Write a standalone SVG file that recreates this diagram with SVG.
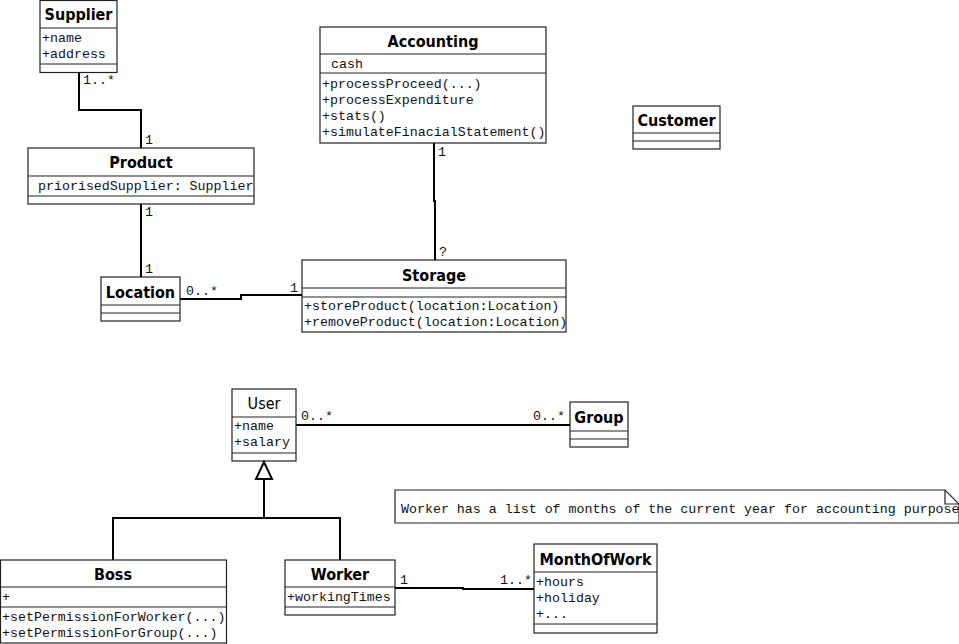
<svg xmlns="http://www.w3.org/2000/svg" width="959" height="644" viewBox="0 0 959 644">
  <style>
    .box { fill: #ffffff; stroke: #222222; stroke-width: 1.2; }
    .sep { stroke: #222222; stroke-width: 1.2; }
    .title { font-family: "DejaVu Sans Condensed", "DejaVu Sans", "Liberation Sans", sans-serif; font-weight: bold; font-size: 16px; fill: #000; text-anchor: middle; font-stretch: condensed; }
    .plain { font-family: "DejaVu Sans Condensed", "DejaVu Sans", "Liberation Sans", sans-serif; font-size: 16px; fill: #000; text-anchor: middle; font-stretch: condensed; }
    .mono { font-family: "Liberation Mono", "Courier New", monospace; font-size: 13.3px; fill: #111; }
    .conn { fill: none; stroke: #000; stroke-width: 2; }
    .gen { fill: #fff; stroke: #000; stroke-width: 2; }
  </style>

  <!-- Supplier -->
  <g id="supplier">
    <rect class="box" x="40" y="0.5" width="77" height="72"/>
    <line class="sep" x1="40" y1="28" x2="117" y2="28"/>
    <line class="sep" x1="40" y1="64" x2="117" y2="64"/>
    <text class="title" x="78.5" y="20">Supplier</text>
    <text class="mono" x="42" y="42">+name</text>
    <text class="mono" x="42" y="58">+address</text>
  </g>

  <!-- Product -->
  <g id="product">
    <rect class="box" x="28" y="148" width="226" height="56"/>
    <line class="sep" x1="28" y1="176" x2="254" y2="176"/>
    <line class="sep" x1="28" y1="196" x2="254" y2="196"/>
    <text class="title" x="141" y="168">Product</text>
    <text class="mono" x="38" y="190">priorisedSupplier: Supplier</text>
  </g>

  <!-- Accounting -->
  <g id="accounting">
    <rect class="box" x="320" y="27" width="226" height="116"/>
    <line class="sep" x1="320" y1="54" x2="546" y2="54"/>
    <line class="sep" x1="320" y1="73" x2="546" y2="73"/>
    <text class="title" x="433" y="47">Accounting</text>
    <text class="mono" x="331" y="68">cash</text>
    <text class="mono" x="322" y="88">+processProceed(...)</text>
    <text class="mono" x="322" y="104">+processExpenditure</text>
    <text class="mono" x="322" y="120">+stats()</text>
    <text class="mono" x="322" y="136">+simulateFinacialStatement()</text>
  </g>

  <!-- Customer -->
  <g id="customer">
    <rect class="box" x="633" y="106" width="87" height="43"/>
    <line class="sep" x1="633" y1="133" x2="720" y2="133"/>
    <line class="sep" x1="633" y1="141" x2="720" y2="141"/>
    <text class="title" x="676.5" y="126">Customer</text>
  </g>

  <!-- Location -->
  <g id="location">
    <rect class="box" x="101" y="277" width="79" height="44"/>
    <line class="sep" x1="101" y1="305" x2="180" y2="305"/>
    <line class="sep" x1="101" y1="313" x2="180" y2="313"/>
    <text class="title" x="140.5" y="298">Location</text>
  </g>

  <!-- Storage -->
  <g id="storage">
    <rect class="box" x="302" y="260" width="264" height="72"/>
    <line class="sep" x1="302" y1="288" x2="566" y2="288"/>
    <line class="sep" x1="302" y1="297" x2="566" y2="297"/>
    <text class="title" x="434" y="281">Storage</text>
    <text class="mono" x="304" y="310">+storeProduct(location:Location)</text>
    <text class="mono" x="304" y="326">+removeProduct(location:Location)</text>
  </g>

  <!-- User -->
  <g id="user">
    <rect class="box" x="232" y="389" width="64" height="72"/>
    <line class="sep" x1="232" y1="417" x2="296" y2="417"/>
    <line class="sep" x1="232" y1="453" x2="296" y2="453"/>
    <text class="plain" x="264" y="409">User</text>
    <text class="mono" x="234" y="430">+name</text>
    <text class="mono" x="234" y="446">+salary</text>
  </g>

  <!-- Group -->
  <g id="group">
    <rect class="box" x="570" y="402" width="58" height="45"/>
    <line class="sep" x1="570" y1="431" x2="628" y2="431"/>
    <line class="sep" x1="570" y1="439" x2="628" y2="439"/>
    <text class="title" x="599" y="423">Group</text>
  </g>

  <!-- Note -->
  <g id="note">
    <polygon class="box" points="395,490 945,490 959,504 959,523 395,523"/>
    <polyline fill="none" stroke="#222" stroke-width="1.2" points="945,490 945,504 959,504"/>
    <text class="mono" x="401" y="513">Worker has a list of months of the current year for accounting purpose</text>
  </g>

  <!-- Boss -->
  <g id="boss">
    <rect class="box" x="0.5" y="560" width="226" height="83"/>
    <line class="sep" x1="0" y1="587" x2="226" y2="587"/>
    <line class="sep" x1="0" y1="607" x2="226" y2="607"/>
    <text class="title" x="113" y="580">Boss</text>
    <text class="mono" x="2" y="601">+</text>
    <text class="mono" x="2" y="621">+setPermissionForWorker(...)</text>
    <text class="mono" x="2" y="637">+setPermissionForGroup(...)</text>
  </g>

  <!-- Worker -->
  <g id="worker">
    <rect class="box" x="285" y="560" width="110" height="55"/>
    <line class="sep" x1="285" y1="587" x2="395" y2="587"/>
    <line class="sep" x1="285" y1="607" x2="395" y2="607"/>
    <text class="title" x="340" y="580">Worker</text>
    <text class="mono" x="287" y="601">+workingTimes</text>
  </g>

  <!-- MonthOfWork -->
  <g id="monthofwork">
    <rect class="box" x="534" y="544" width="123" height="89"/>
    <line class="sep" x1="534" y1="572" x2="657" y2="572"/>
    <line class="sep" x1="534" y1="624" x2="657" y2="624"/>
    <text class="title" x="595.5" y="565">MonthOfWork</text>
    <text class="mono" x="536" y="586">+hours</text>
    <text class="mono" x="536" y="602">+holiday</text>
    <text class="mono" x="536" y="618">+...</text>
  </g>

  <!-- Connectors -->
  <g id="connectors">
    <polyline class="conn" points="79,72 79,110 141,110 141,148"/>
    <text class="mono" x="83" y="84">1..*</text>
    <text class="mono" x="145" y="144">1</text>

    <polyline class="conn" points="141,204 141,277"/>
    <text class="mono" x="145" y="216">1</text>
    <text class="mono" x="145" y="273">1</text>

    <polyline class="conn" points="180,299 241,299 241,295 302,295"/>
    <text class="mono" x="186" y="295">0..*</text>
    <text class="mono" x="290" y="292">1</text>

    <polyline class="conn" points="434,143 434,201 435,201 435,260"/>
    <text class="mono" x="438" y="156">1</text>
    <text class="mono" x="439" y="256">?</text>

    <line class="conn" x1="296" y1="425" x2="570" y2="425"/>
    <text class="mono" x="301" y="420">0..*</text>
    <text class="mono" x="533" y="420">0..*</text>

    <polyline class="conn" points="113,560 113,518 340,518 340,560"/>
    <line class="conn" x1="264" y1="518" x2="264" y2="479"/>
    <polygon class="gen" points="264,462 256,479 272,479"/>

    <polyline class="conn" points="395,588 463,588 463,589 534,589"/>
    <text class="mono" x="400" y="584">1</text>
    <text class="mono" x="500" y="584">1..*</text>
  </g>
</svg>
